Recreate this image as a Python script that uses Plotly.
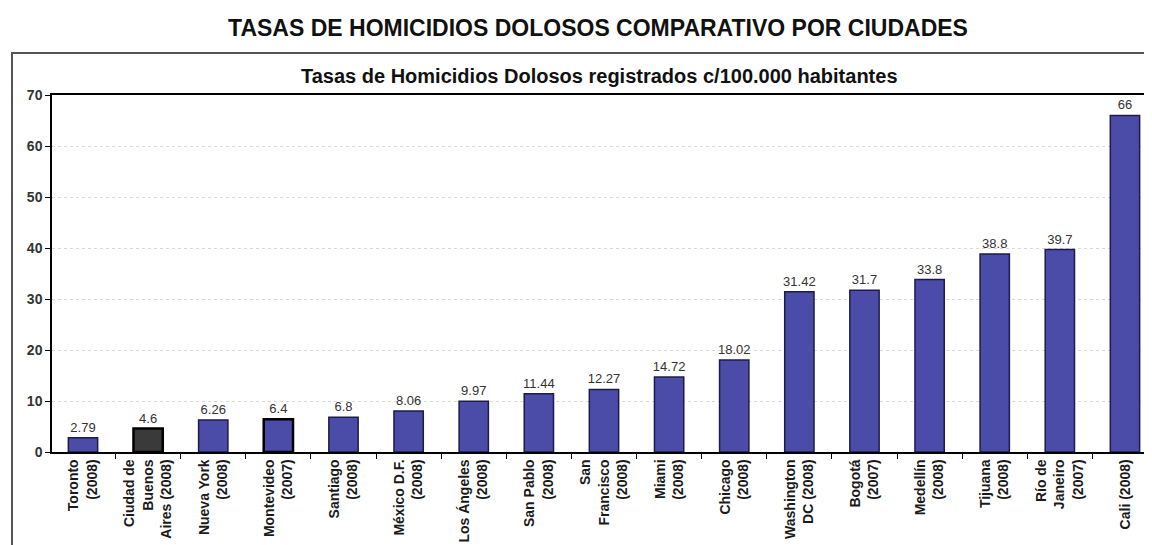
import plotly.graph_objects as go

title_text = "TASAS DE HOMICIDIOS DOLOSOS COMPARATIVO POR CIUDADES"
subtitle_text = "Tasas de Homicidios Dolosos registrados c/100.000 habitantes"

cities = [
    "Toronto<br>(2008)",
    "Ciudad de<br>Buenos<br>Aires (2008)",
    "Nueva York<br>(2008)",
    "Montevideo<br>(2007)",
    "Santiago<br>(2008)",
    "México D.F.<br>(2008)",
    "Los Ángeles<br>(2008)",
    "San Pablo<br>(2008)",
    "San<br>Francisco<br>(2008)",
    "Miami<br>(2008)",
    "Chicago<br>(2008)",
    "Washington<br>DC (2008)",
    "Bogotá<br>(2007)",
    "Medellín<br>(2008)",
    "Tijuana<br>(2008)",
    "Río de<br>Janeiro<br>(2007)",
    "Cali (2008)",
]
rates = [2.79, 4.6, 6.26, 6.4, 6.8, 8.06, 9.97, 11.44, 12.27, 14.72,
         18.02, 31.42, 31.7, 33.8, 38.8, 39.7, 66]
y_ticks = [0, 10, 20, 30, 40, 50, 60, 70]

BLUE = "#4b4ba8"
fill_colors = [BLUE] * len(cities)
line_colors = ["#1c1c4a"] * len(cities)
line_widths = [1.5] * len(cities)
# Buenos Aires highlighted dark, Montevideo with black outline
fill_colors[1] = "#3a3a3a"
line_colors[1] = "#000000"
line_widths[1] = 2.5
line_colors[3] = "#000000"
line_widths[3] = 2.5

labels = [f"{v:g}" for v in rates]

FONT = "Liberation Sans, Arial, sans-serif"

fig = go.Figure()
fig.add_trace(go.Bar(
    x=cities,
    y=rates,
    width=0.45,
    marker=dict(color=fill_colors, line=dict(color=line_colors, width=line_widths)),
    text=labels,
    textposition="outside",
    constraintext="none",
    textfont=dict(family=FONT, size=13, color="#333333"),
    cliponaxis=False,
    hoverinfo="x+y",
))

fig.update_layout(
    width=1152,
    height=545,
    margin=dict(l=44, r=8, t=87, b=101),
    paper_bgcolor="white",
    plot_bgcolor="white",
    showlegend=False,
    font=dict(family=FONT, color="#222222"),
    title=dict(
        text=title_text,
        x=590 / 1152, xanchor="center",
        y=1 - 20 / 545, yanchor="middle",
        font=dict(family=FONT, size=23, color="#111111", weight="bold"),
    ),
    bargap=0.5,
)

fig.add_annotation(
    text=subtitle_text,
    xref="paper", yref="paper",
    x=(599 - 52) / 1100, y=(452 - 76) / 357,
    xanchor="center", yanchor="middle",
    showarrow=False,
    font=dict(family=FONT, size=20, color="#111111", weight="bold"),
)

# outer chart frame
fig.add_shape(
    type="rect", xref="paper", yref="paper",
    x0=(12 - 52) / 1100, x1=1.02,
    y0=-0.4, y1=(452 - 53) / 357,
    line=dict(color="#555555", width=2),
    fillcolor="rgba(0,0,0,0)",
    layer="below",
)

fig.update_xaxes(
    range=[-0.476, 16.415],
    showline=True, linecolor="black", linewidth=1.5,
    mirror=True,
    ticks="outside", tickson="boundaries", ticklen=5, tickcolor="black",
    tickangle=-90,
    tickfont=dict(family=FONT, size=14, color="#1a1a1a", weight="bold"),
    showgrid=False,
)
fig.update_yaxes(
    range=[0, 70],
    tickvals=y_ticks,
    showline=True, linecolor="black", linewidth=1.5,
    ticks="outside", ticklen=5, tickcolor="black",
    tickfont=dict(family=FONT, size=14, color="#333333", weight="bold"),
    showgrid=True, gridcolor="#d9d9d9", griddash="dot", gridwidth=1,
    zeroline=False,
)

fig.write_html("out.html")
